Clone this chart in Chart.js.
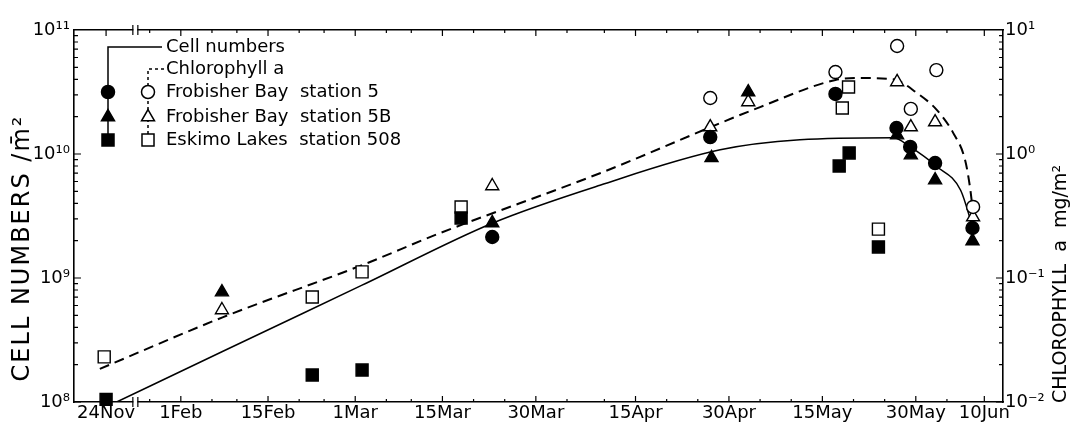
<!DOCTYPE html>
<html>
<head>
<meta charset="utf-8">
<script src="https://cdn.jsdelivr.net/npm/chart.js@4.4.0/dist/chart.umd.min.js"></script>
<style>
  html, body { margin: 0; padding: 0; background: #fff; }
  canvas { display: block; }
</style>
</head>
<body>
<canvas id="chart" width="1079" height="435"></canvas>
<script>
// x values are days of the year (1 Feb = 32). The axis is broken after 24 Nov,
// so that sample sits at axis day 20, just left of the break.
const NOV24 = 20;
const BREAK_DAY = 24.7;
const tickDays = [NOV24, 32, 46, 60, 74, 89, 105, 120, 135, 150, 161];
const tickLabels = ['24Nov', '1Feb', '15Feb', '1Mar', '15Mar', '30Mar', '15Apr', '30Apr', '15May', '30May', '10Jun'];
const minorTickDays = [27, 37, 41, 51, 55, 65, 69, 79, 84, 94, 100, 110, 115, 125, 130, 140, 145, 155];

const cellTicks = [1e8, 1e9, 1e10, 1e11];
const cellTickLabels = ['10⁸', '10⁹', '10¹⁰', '10¹¹'];
const chlTicks = [0.01, 0.1, 1, 10];
const chlTickLabels = ['10⁻²', '10⁻¹', '10⁰', '10¹'];

// Frobisher Bay station 5
const fb5CellDays = [82.0, 117.0, 137.1, 146.9, 149.1, 153.1, 159.1];
const fb5Cells = [2.14e9, 1.37e10, 3.05e10, 1.62e10, 1.14e10, 8.45e9, 2.53e9];
const fb5ChlDays = [117.0, 137.1, 147.0, 149.2, 153.3, 159.2];
const fb5Chl = [2.83, 4.58, 7.43, 2.31, 4.75, 0.374];

// Frobisher Bay station 5B
const fb5bCellDays = [38.6, 82.0, 117.2, 123.1, 147.0, 149.2, 153.1, 159.1];
const fb5bCells = [7.7e8, 2.78e9, 9.3e9, 3.16e10, 1.42e10, 9.8e9, 6.16e9, 1.99e9];
const fb5bChlDays = [38.6, 82.0, 117.0, 123.1, 147.0, 149.2, 153.1, 159.2];
const fb5bChl = [0.0552, 0.552, 1.65, 2.63, 3.81, 1.65, 1.81, 0.31];

// Eskimo Lakes station 508
const el508CellDays = [NOV24, 53.1, 61.1, 77.0, 137.7, 139.3, 144.0];
const el508Cells = [1.05e8, 1.65e8, 1.81e8, 3.05e9, 8.0e9, 1.02e10, 1.78e9];
const el508ChlDays = [19.7, 53.1, 61.1, 77.0, 138.2, 139.2, 144.0];
const el508Chl = [0.0231, 0.0703, 0.112, 0.374, 2.35, 3.47, 0.248];

// Fitted curves
const cellCurveDays = [21.7, 38.6, 61.1, 82.1, 99.3, 118.6, 131.4, 146.4, 149.1, 153.4, 157.2, 159.2];
const cellCurve = [1e8, 2.54e8, 8.75e8, 2.78e9, 5.6e9, 1.08e10, 1.3e10, 1.35e10, 1.14e10, 7.9e9, 5.1e9, 2.5e9];
const chlCurveDays = [19.0, 38.8, 61.1, 73.6, 99.3, 125.0, 137.1, 141.1, 146.4, 150.2, 153.4, 156.0, 157.9, 158.7, 159.2];
const chlCurve = [0.0185, 0.0484, 0.127, 0.23, 0.70, 2.39, 3.95, 4.1, 4.0, 3.1, 2.26, 1.48, 0.90, 0.54, 0.335];

const FONT = '"DejaVu Sans", sans-serif';

function pts(xs, ys) {
    return xs.map((x, i) => ({ x: x, y: ys[i] }));
}

function markers(label, xs, ys, style, filled, axis, radius) {
    return {
        label: label,
        data: pts(xs, ys),
        yAxisID: axis,
        showLine: false,
        pointStyle: style,
        pointRadius: radius,
        pointBackgroundColor: filled ? '#000' : '#fff',
        pointBorderColor: '#000',
        pointBorderWidth: 1.4,
        clip: false
    };
}

function curve(label, xs, ys, axis, dash) {
    return {
        label: label,
        data: pts(xs, ys),
        yAxisID: axis,
        showLine: true,
        borderColor: '#000',
        borderWidth: dash.length ? 2 : 1.5,
        borderDash: dash,
        pointRadius: 0,
        cubicInterpolationMode: 'monotone',
        fill: false
    };
}

// Ticks inside the frame, axis break marks, legend and rotated titles.
const decorations = {
    id: 'decorations',
    afterDraw(chart) {
        const ctx = chart.ctx;
        const area = chart.chartArea;
        const x = chart.scales.x, y = chart.scales.y, y2 = chart.scales.y2;
        ctx.save();
        ctx.strokeStyle = '#000';
        ctx.lineWidth = 1.2;

        function xTick(day, len) {
            const px = x.getPixelForValue(day);
            ctx.beginPath();
            ctx.moveTo(px, area.bottom);
            ctx.lineTo(px, area.bottom - len);
            ctx.moveTo(px, area.top);
            ctx.lineTo(px, area.top + len);
            ctx.stroke();
        }
        tickDays.forEach(d => xTick(d, 6));
        minorTickDays.forEach(d => xTick(d, 3));

        for (let e = 8; e < 11; e++) {
            for (let k = 1; k < 10; k++) {
                const len = k === 1 ? 7 : 4;
                const py = y.getPixelForValue(k * Math.pow(10, e));
                const py2 = y2.getPixelForValue(k * Math.pow(10, e - 10));
                ctx.beginPath();
                ctx.moveTo(area.left, py);
                ctx.lineTo(area.left + len, py);
                ctx.moveTo(area.right, py2);
                ctx.lineTo(area.right - len, py2);
                ctx.stroke();
            }
        }

        // Break in the time axis
        const bx = x.getPixelForValue(BREAK_DAY);
        [area.top, area.bottom].forEach(ay => {
            ctx.fillStyle = '#fff';
            ctx.fillRect(bx - 2, ay - 2, 4, 4);
            ctx.beginPath();
            ctx.moveTo(bx - 2.5, ay - 5);
            ctx.lineTo(bx - 2.5, ay + 5);
            ctx.moveTo(bx + 2.5, ay - 5);
            ctx.lineTo(bx + 2.5, ay + 5);
            ctx.stroke();
        });

        // Legend
        const fx = area.left + 34, ox = area.left + 74, tx = area.left + 92;
        const rows = [area.top + 17, area.top + 39, area.top + 62, area.top + 87, area.top + 110];
        ctx.lineWidth = 1.5;
        ctx.beginPath();
        ctx.moveTo(fx, rows[4]);
        ctx.lineTo(fx, rows[0]);
        ctx.lineTo(tx - 4, rows[0]);
        ctx.stroke();
        ctx.setLineDash([3, 3]);
        ctx.beginPath();
        ctx.moveTo(ox, rows[4]);
        ctx.lineTo(ox, rows[1]);
        ctx.lineTo(tx - 2, rows[1]);
        ctx.stroke();
        ctx.setLineDash([]);
        const styles = [['circle', 6.5], ['triangle', 7.5], ['rect', 8.5]];
        styles.forEach((s, i) => {
            const opts = { pointStyle: s[0], radius: s[1], rotation: 0, borderWidth: 1.4 };
            ctx.fillStyle = '#000';
            Chart.helpers.drawPoint(ctx, opts, fx, rows[i + 2]);
            ctx.fillStyle = '#fff';
            Chart.helpers.drawPoint(ctx, opts, ox, rows[i + 2]);
        });
        ctx.fillStyle = '#000';
        ctx.font = '18px ' + FONT;
        ctx.textAlign = 'left';
        ctx.textBaseline = 'middle';
        const texts = ['Cell numbers', 'Chlorophyll a', 'Frobisher Bay  station 5',
            'Frobisher Bay  station 5B', 'Eskimo Lakes  station 508'];
        texts.forEach((t, i) => ctx.fillText(t, tx, rows[i]));

        // Axis titles, both reading bottom to top
        const cy = (area.top + area.bottom) / 2;
        ctx.textAlign = 'center';
        ctx.save();
        ctx.font = '24px ' + FONT;
        ctx.letterSpacing = '2px';
        ctx.translate(23, cy + 32);
        ctx.rotate(-Math.PI / 2);
        ctx.fillText('CELL NUMBERS /m\u0304²', 0, 0);
        ctx.restore();
        ctx.save();
        ctx.font = '19px ' + FONT;
        ctx.translate(1061, cy + 68);
        ctx.rotate(-Math.PI / 2);
        ctx.fillText('CHLOROPHYLL  a  mg/m²', 0, 0);
        ctx.restore();
        ctx.restore();
    }
};

const tickFont = { family: FONT, size: 18 };

new Chart(document.getElementById('chart'), {
    type: 'scatter',
    data: {
        datasets: [
            markers('Frobisher Bay station 5 cells', fb5CellDays, fb5Cells, 'circle', true, 'y', 6.5),
            markers('Frobisher Bay station 5 chlorophyll', fb5ChlDays, fb5Chl, 'circle', false, 'y2', 6.5),
            markers('Frobisher Bay station 5B cells', fb5bCellDays, fb5bCells, 'triangle', true, 'y', 7.5),
            markers('Frobisher Bay station 5B chlorophyll', fb5bChlDays, fb5bChl, 'triangle', false, 'y2', 7.5),
            markers('Eskimo Lakes station 508 cells', el508CellDays, el508Cells, 'rect', true, 'y', 8.5),
            markers('Eskimo Lakes station 508 chlorophyll', el508ChlDays, el508Chl, 'rect', false, 'y2', 8.5),
            curve('Cell numbers', cellCurveDays, cellCurve, 'y', []),
            curve('Chlorophyll a', chlCurveDays, chlCurve, 'y2', [10, 6])
        ]
    },
    options: {
        responsive: false,
        animation: false,
        devicePixelRatio: 1,
        layout: { padding: 0 },
        plugins: {
            legend: { display: false },
            tooltip: { enabled: false }
        },
        scales: {
            x: {
                type: 'linear',
                position: 'bottom',
                min: 14.85,
                max: 164.0,
                afterBuildTicks: s => { s.ticks = tickDays.map(v => ({ value: v })); },
                afterFit: s => { s.height = 33; },
                ticks: {
                    autoSkip: false,
                    maxRotation: 0,
                    padding: 1,
                    color: '#000',
                    font: tickFont,
                    callback: v => tickLabels[tickDays.indexOf(v)]
                },
                grid: { display: false, drawTicks: false },
                border: { display: true, color: '#000', width: 1.6 }
            },
            x2: {
                type: 'linear',
                position: 'top',
                min: 14.85,
                max: 164.0,
                afterFit: s => { s.height = 30; },
                ticks: { display: false },
                grid: { display: false, drawTicks: false },
                border: { display: true, color: '#000', width: 1.6 }
            },
            y: {
                type: 'logarithmic',
                position: 'left',
                min: 1e8,
                max: 1e11,
                afterBuildTicks: s => { s.ticks = cellTicks.map(v => ({ value: v })); },
                afterFit: s => { s.width = 74; },
                ticks: {
                    padding: 4,
                    color: '#000',
                    font: tickFont,
                    callback: v => cellTickLabels[cellTicks.indexOf(v)]
                },
                grid: { display: false, drawTicks: false },
                border: { display: true, color: '#000', width: 1.6 }
            },
            y2: {
                type: 'logarithmic',
                position: 'right',
                min: 0.01,
                max: 10,
                afterBuildTicks: s => { s.ticks = chlTicks.map(v => ({ value: v })); },
                afterFit: s => { s.width = 76; },
                ticks: {
                    padding: 2,
                    color: '#000',
                    font: tickFont,
                    callback: v => chlTickLabels[chlTicks.indexOf(v)]
                },
                grid: { display: false, drawTicks: false },
                border: { display: true, color: '#000', width: 1.6 }
            }
        }
    },
    plugins: [decorations]
});
</script>
</body>
</html>
